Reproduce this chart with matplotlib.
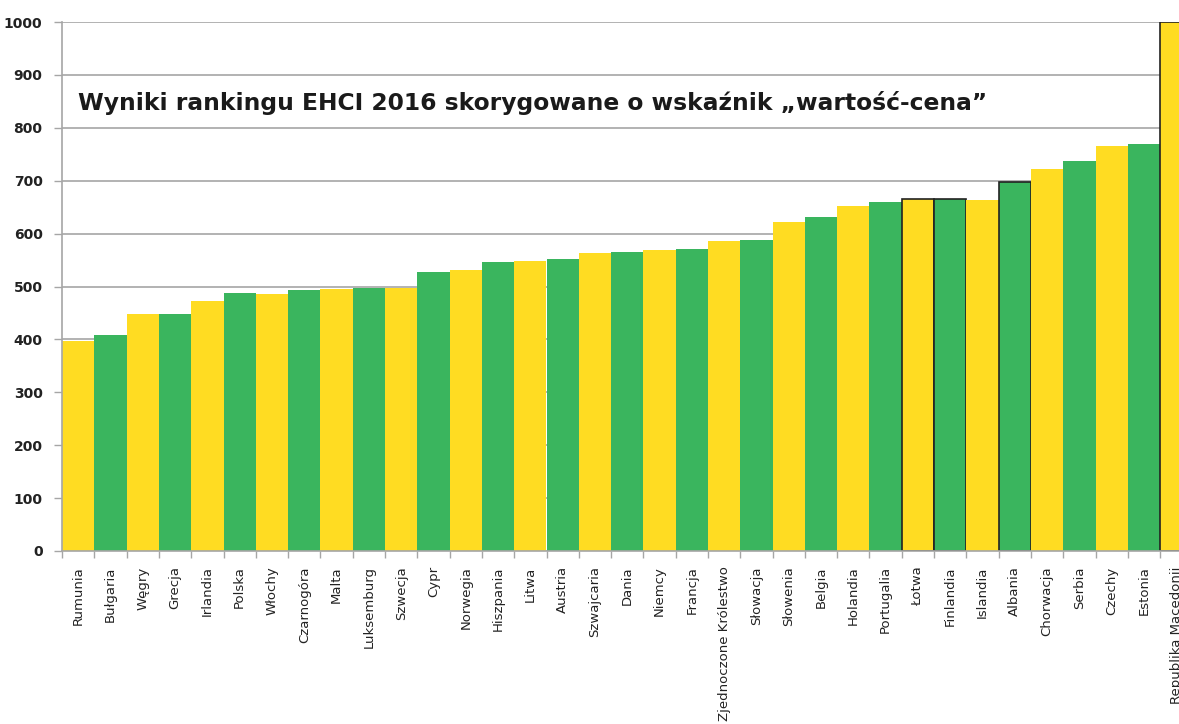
import matplotlib
matplotlib.use("Agg")
import matplotlib.pyplot as plt
import numpy as np

countries = ["Rumunia", "Bułgaria", "Węgry", "Grecja", "Irlandia", "Polska", "Włochy",
             "Czarnogóra", "Malta", "Luksemburg", "Szwecja", "Cypr", "Norwegia", "Hiszpania",
             "Litwa", "Austria", "Szwajcaria", "Dania", "Niemcy", "Francja",
             "Zjednoczone Królestwo", "Słowacja", "Słowenia", "Belgia", "Holandia",
             "Portugalia", "Łotwa", "Finlandia", "Islandia", "Albania", "Chorwacja",
             "Serbia", "Czechy", "Estonia", "Republika Macedonii"]
scores = [397, 408, 448, 448, 473, 487, 486, 493, 495, 497, 497, 528, 531, 547,
          549, 552, 564, 566, 569, 571, 586, 588, 622, 632, 653, 659, 665, 665,
          664, 698, 722, 737, 766, 769, 1000]
outlined = ["Łotwa", "Finlandia", "Albania", "Republika Macedonii"]
yticks = [0, 100, 200, 300, 400, 500, 600, 700, 800, 900, 1000]
title = "Wyniki rankingu EHCI 2016 skorygowane o wskaźnik „wartość-cena”"

YELLOW = "#FFDC22"
GREEN = "#3AB55E"

W, H = 1179, 724
fig = plt.figure(figsize=(W / 100, H / 100), dpi=100)
bar_w_px = 32.3
left_px, bottom_px, top_px = 62, 551, 22
n = len(countries)
ax = fig.add_axes([left_px / W, 1 - bottom_px / H,
                   n * bar_w_px / W, (bottom_px - top_px) / H])

x = np.arange(n)
colors = [YELLOW if i % 2 == 0 else GREEN for i in range(n)]
edges = ["#222222" if c in outlined else "none" for c in countries]
lws = [1.2 if c in outlined else 0 for c in countries]
ax.bar(x, scores, width=1.0, color=colors, edgecolor=edges, linewidth=lws, zorder=3)

ax.set_xlim(-0.5, n - 0.5)
ax.set_ylim(0, 1000)
ax.set_yticks(yticks)
ax.set_yticklabels([str(v) for v in yticks], fontsize=10, fontweight="bold", color="#222222")
ax.yaxis.grid(True, color="#A6A6A6", linewidth=1.2, zorder=0)
ax.set_axisbelow(True)

ax.set_xticks(x)
ax.set_xticklabels(countries, rotation=90, fontsize=9.5, color="#222222", va="top")
ax.set_xticks(np.arange(-0.5, n, 1.0), minor=True)
ax.tick_params(axis="x", which="major", length=0, pad=11)
ax.tick_params(axis="x", which="minor", length=5, color="#A6A6A6", width=1)
ax.tick_params(axis="y", length=6, color="#A6A6A6", width=1, pad=8)

for s in ["top", "right"]:
    ax.spines[s].set_visible(False)
for s in ["left", "bottom"]:
    ax.spines[s].set_color("#A6A6A6")
    ax.spines[s].set_linewidth(1.2)
    ax.spines[s].set_zorder(4)

fig.text(78 / W, 1 - 103 / H, title, fontsize=16.8, fontweight="bold",
         color="#1A1A1A", va="center", ha="left")

fig.savefig("out.png", dpi=100)
